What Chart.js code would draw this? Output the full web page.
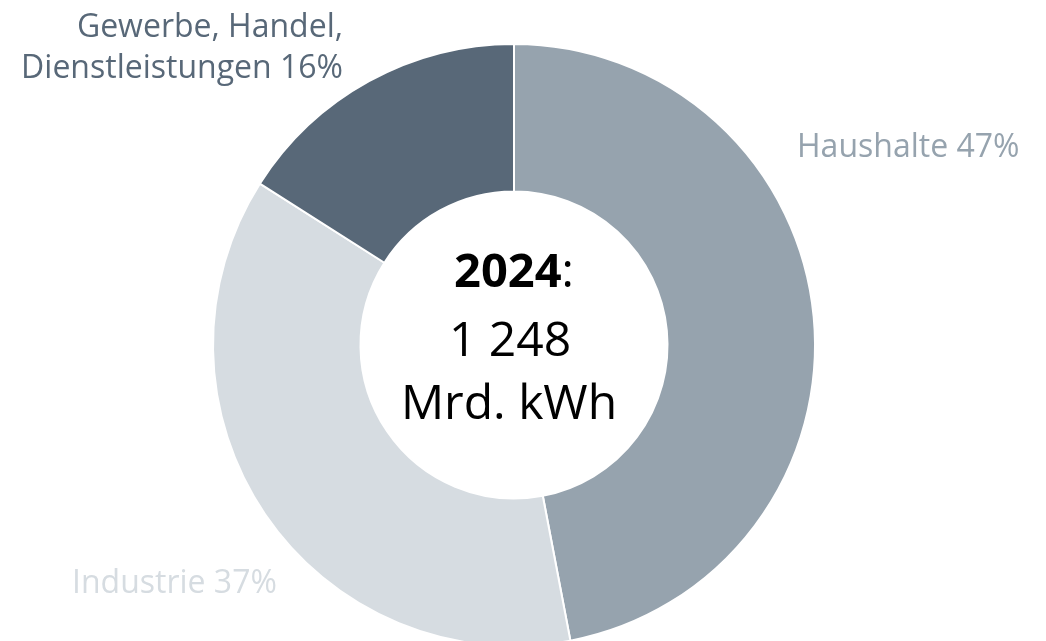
<!DOCTYPE html>
<html lang="de">
<head>
    <meta charset="UTF-8">
    <title>Stromverbrauch 2024</title>
    <script src="https://cdn.jsdelivr.net/npm/chart.js"></script>
    <style>
        body {
            margin: 0;
            padding: 0;
            background: white;
            overflow: hidden;
            font-family: "Open Sans", sans-serif;
        }
        #chart-container {
            width: 1046px;
            height: 700px;
            position: relative;
        }
    </style>
</head>
<body>
    <div id="chart-container">
        <canvas id="usage-chart"></canvas>
    </div>

    <script>
        // data
        var sectors = ['Haushalte', 'Industrie', 'Gewerbe, Handel, Dienstleistungen'];
        var shares = [47, 37, 16];
        var sliceColors = ['#96a3ae', '#d6dce1', '#586878'];
        var centerYear = '2024';
        var centerValue = '1 248';
        var centerUnit = 'Mrd. kWh';

        // outside labels: text lines, colour, anchor relative to the ring centre
        var labelSpecs = [
            { lines: [sectors[0] + ' ' + shares[0] + '%'], color: sliceColors[0], dx: 283, dy: -188, align: 'left' },
            { lines: [sectors[1] + ' ' + shares[1] + '%'], color: sliceColors[1], dx: -442, dy: 248, align: 'left' },
            { lines: ['Gewerbe, Handel,', 'Dienstleistungen ' + shares[2] + '%'], color: sliceColors[2], dx: -171, dy: -308, align: 'right' }
        ];

        var textPlugin = {
            id: 'textPlugin',
            afterDraw: function (chart) {
                var arc = chart.getDatasetMeta(0).data[0];
                var cx = arc.x, cy = arc.y;
                var ctx = chart.ctx;
                ctx.save();
                ctx.textBaseline = 'alphabetic';

                // centre text
                ctx.fillStyle = '#000';
                ctx.font = 'bold 47px "Open Sans"';
                var yearW = ctx.measureText(centerYear).width;
                ctx.font = '47px "Open Sans"';
                var colonW = ctx.measureText(':').width;
                var startX = cx - (yearW + colonW) / 2;
                ctx.textAlign = 'left';
                ctx.font = 'bold 47px "Open Sans"';
                ctx.fillText(centerYear, startX, cy - 58);
                ctx.font = '47px "Open Sans"';
                ctx.fillText(':', startX + yearW, cy - 58);
                ctx.textAlign = 'center';
                ctx.font = '48px "Open Sans"';
                ctx.fillText(centerValue, cx - 4, cy + 11);
                ctx.fillText(centerUnit, cx - 5, cy + 74);

                // slice labels
                ctx.font = '32px "Open Sans"';
                labelSpecs.forEach(function (l) {
                    ctx.fillStyle = l.color;
                    ctx.textAlign = l.align;
                    l.lines.forEach(function (t, i) {
                        ctx.fillText(t, cx + l.dx, cy + l.dy + i * 41);
                    });
                });
                ctx.restore();
            }
        };

        var ctx = document.getElementById('usage-chart').getContext('2d');
        var usageChart = new Chart(ctx, {
            type: 'doughnut',
            data: {
                labels: sectors,
                datasets: [{
                    data: shares,
                    backgroundColor: sliceColors,
                    borderColor: '#ffffff',
                    borderWidth: 2
                }]
            },
            options: {
                responsive: true,
                maintainAspectRatio: false,
                animation: false,
                cutout: '51%',
                layout: {
                    padding: { left: 212, right: 230, top: 43, bottom: 53 }
                },
                plugins: {
                    legend: { display: false },
                    tooltip: { enabled: false }
                }
            },
            plugins: [textPlugin]
        });
    </script>
</body>
</html>
